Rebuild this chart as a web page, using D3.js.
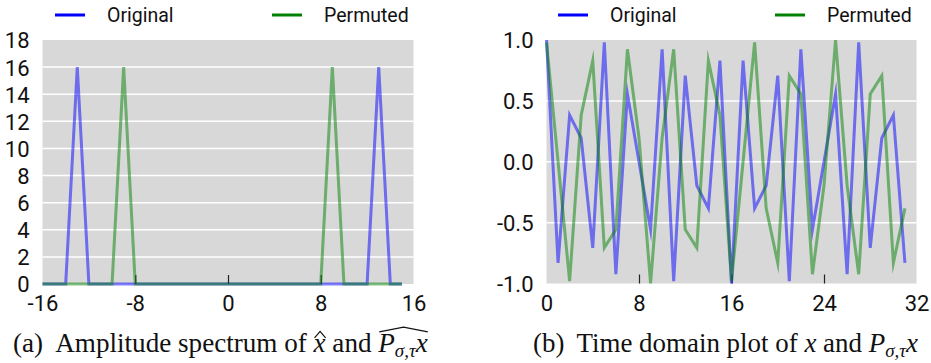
<!DOCTYPE html>
<html>
<head>
<meta charset="utf-8">
<script src="https://cdn.jsdelivr.net/npm/d3@7"></script>
<style>
  html, body { margin: 0; padding: 0; background: #fff; }
  svg { display: block; }
</style>
</head>
<body>
<svg id="fig" width="931" height="363"></svg>
<script>
// Frequency bins (fft-shifted) and amplitude spectra
const freqBins = [-16, -15, -14, -13, -12, -11, -10, -9, -8, -7, -6, -5, -4, -3, -2, -1,
                  0, 1, 2, 3, 4, 5, 6, 7, 8, 9, 10, 11, 12, 13, 14, 15];
const spectrumOriginal = [0, 0, 0, 16, 0, 0, 0, 0, 0, 0, 0, 0, 0, 0, 0, 0,
                          0, 0, 0, 0, 0, 0, 0, 0, 0, 0, 0, 0, 0, 16, 0, 0];
const spectrumPermuted = [0, 0, 0, 0, 0, 0, 0, 16, 0, 0, 0, 0, 0, 0, 0, 0,
                          0, 0, 0, 0, 0, 0, 0, 0, 0, 16, 0, 0, 0, 0, 0, 0];

// Time samples and signal values
const timeSteps = [0, 1, 2, 3, 4, 5, 6, 7, 8, 9, 10, 11, 12, 13, 14, 15,
                   16, 17, 18, 19, 20, 21, 22, 23, 24, 25, 26, 27, 28, 29, 30, 31];
const timeOriginal = [1, -0.831, 0.383, 0.195, -0.707, 0.981, -0.924, 0.556,
                      0, -0.556, 0.924, -0.981, 0.707, -0.195, -0.383, 0.831,
                      -1, 0.831, -0.383, -0.195, 0.707, -0.981, 0.924, -0.556,
                      0, 0.556, -0.924, 0.981, -0.707, 0.195, 0.383, -0.831];
const timePermuted = [0.981, 0, -0.981, 0.383, 0.831, -0.707, -0.556, 0.924,
                      0.195, -1, 0.195, 0.924, -0.556, -0.707, 0.831, 0.383,
                      -0.981, 0, 0.981, -0.383, -0.831, 0.707, 0.556, -0.924,
                      -0.195, 1, -0.195, -0.924, 0.556, 0.707, -0.831, -0.383];

// Tick values and labels
const specXTicks = [-16, -8, 0, 8, 16];
const specXLabels = ["-16", "-8", "0", "8", "16"];
const specYTicks = [0, 2, 4, 6, 8, 10, 12, 14, 16, 18];
const timeXTicks = [0, 8, 16, 24, 32];
const timeXLabels = ["0", "8", "16", "24", "32"];
const timeYTicks = [-1, -0.5, 0, 0.5, 1];
const timeYLabels = ["-1.0", "-0.5", "0.0", "0.5", "1.0"];

const seriesNames = ["Original", "Permuted"];
const seriesColors = ["#0000ff", "#008000"];

const svg = d3.select("#fig");
const tickFont = "Roboto, 'DejaVu Sans', sans-serif";
const serif = "'Liberation Serif', 'DejaVu Serif', serif";

function panel(opts) {
  const { x, y, xTicks, xLabels, yTicks, yLabels, xs, series, legend } = opts;
  const g = svg.append("g");
  const [x0, x1] = x.range();
  const [yb, yt] = y.range();

  // plot background
  g.append("rect")
    .attr("x", x0).attr("y", yt)
    .attr("width", x1 - x0).attr("height", yb - yt)
    .attr("fill", "#d8d8d8");

  // horizontal grid
  g.selectAll(".grid")
    .data(yTicks.slice(1, -1))
    .join("line")
    .attr("x1", x0).attr("x2", x1)
    .attr("y1", d => y(d)).attr("y2", d => y(d))
    .attr("stroke", "#fff").attr("stroke-width", 1.5);

  // x axis: inward ticks, labels below
  const xAxis = d3.axisBottom(x)
    .tickValues(xTicks)
    .tickFormat((d, i) => xLabels[i])
    .tickSizeInner(-9).tickSizeOuter(0).tickPadding(0);
  const ax = g.append("g").attr("transform", `translate(0,${yb})`).call(xAxis);
  ax.select(".domain").remove();
  ax.selectAll(".tick line")
    .attr("stroke", "#222").attr("stroke-width", 1.2)
    .attr("display", (d, i) => (i === 0 || i === xTicks.length - 1) ? "none" : null);
  ax.selectAll(".tick text")
    .attr("y", 27).attr("dy", null)
    .attr("fill", "#111")
    .style("font-family", tickFont).style("font-size", "22px");

  // y axis labels
  const yAxis = d3.axisLeft(y)
    .tickValues(yTicks)
    .tickFormat((d, i) => yLabels[i])
    .tickSize(0).tickPadding(13);
  const ay = g.append("g").attr("transform", `translate(${x0},0)`).call(yAxis);
  ay.select(".domain").remove();
  ay.selectAll(".tick text")
    .attr("dy", "0.36em")
    .attr("fill", "#111")
    .style("font-family", tickFont).style("font-size", "22px");

  // series lines
  const line = d3.line().x((d, i) => x(xs[i])).y(d => y(d));
  series.forEach((vals, k) => {
    g.append("path")
      .attr("d", line(vals))
      .attr("fill", "none")
      .attr("stroke", seriesColors[k])
      .attr("stroke-opacity", 0.5)
      .attr("stroke-width", 3)
      .attr("stroke-linejoin", "miter")
      .attr("stroke-miterlimit", 10);
  });

  // legend
  legend.forEach((lx, k) => {
    g.append("line")
      .attr("x1", lx).attr("x2", lx + 30)
      .attr("y1", 15).attr("y2", 15)
      .attr("stroke", seriesColors[k]).attr("stroke-width", 3);
    g.append("text")
      .attr("x", lx + 52).attr("y", 15).attr("dy", "0.36em")
      .attr("fill", "#111")
      .style("font-family", tickFont).style("font-size", "19.5px")
      .text(seriesNames[k]);
  });
}

// (a) amplitude spectrum
panel({
  x: d3.scaleLinear().domain([-16, 16]).range([42.5, 413.5]),
  y: d3.scaleLinear().domain([0, 18]).range([284, 40]),
  xTicks: specXTicks, xLabels: specXLabels,
  yTicks: specYTicks, yLabels: specYTicks.map(String),
  xs: freqBins,
  series: [spectrumOriginal, spectrumPermuted],
  legend: [55, 272]
});

// (b) time domain
panel({
  x: d3.scaleLinear().domain([0, 32]).range([546.5, 916.5]),
  y: d3.scaleLinear().domain([-1, 1]).range([283.5, 40]),
  xTicks: timeXTicks, xLabels: timeXLabels,
  yTicks: timeYTicks, yLabels: timeYLabels,
  xs: timeSteps,
  series: [timeOriginal, timePermuted],
  legend: [558, 775]
});

// Captions set as a run of text pieces, with hats drawn over the math.
// The font size is chosen so the run spans [x0, x1].
function caption(x0, x1, base, parts) {
  const layer = svg.append("g");
  function draw(size) {
    layer.selectAll("*").remove();
    let cx = x0;
    const marks = {};
    parts.forEach(p => {
      if (p.gap) { cx += p.gap * size; return; }
      const t = layer.append("text")
        .attr("x", cx).attr("y", base + (p.sub ? size * 0.2 : 0))
        .attr("fill", "#111")
        .style("font-family", serif)
        .style("font-size", (p.sub ? size * 0.7 : size) + "px")
        .style("font-style", p.it ? "italic" : "normal")
        .style("white-space", "pre")
        .text(p.t);
      const w = t.node().getComputedTextLength();
      if (p.hatFrom) marks[p.hatFrom] = { a: cx };
      if (p.hatTo) marks[p.hatTo].b = cx + w + 1;
      cx += w;
    });
    Object.values(marks).forEach(m => {
      const wide = (m.b - m.a) > 20;
      const lo = wide ? base - 0.74 * size : base - 0.52 * size;
      const hi = wide ? base - 0.92 * size : base - 0.76 * size;
      const mid = (m.a + m.b) / 2;
      layer.append("path")
        .attr("d", `M${m.a + 1},${lo} L${mid},${hi} L${m.b - 1},${lo}`)
        .attr("fill", "none").attr("stroke", "#111")
        .attr("stroke-width", 1.2);
    });
    return cx - x0;
  }
  const w0 = draw(24);
  draw(24 * (x1 - x0) / w0);
}

caption(13, 428, 352, [
  { t: "(a)" }, { gap: 0.45 },
  { t: "Amplitude spectrum of " },
  { t: "x", it: true, hatFrom: "h1", hatTo: "h1" },
  { t: " and " },
  { t: "P", it: true, hatFrom: "h2" },
  { t: "σ,τ", it: true, sub: true },
  { t: "x", it: true, hatTo: "h2" }
]);

caption(533, 918, 352, [
  { t: "(b)" }, { gap: 0.45 },
  { t: "Time domain plot of " },
  { t: "x", it: true },
  { t: " and " },
  { t: "P", it: true },
  { t: "σ,τ", it: true, sub: true },
  { t: "x", it: true }
]);
</script>
</body>
</html>
